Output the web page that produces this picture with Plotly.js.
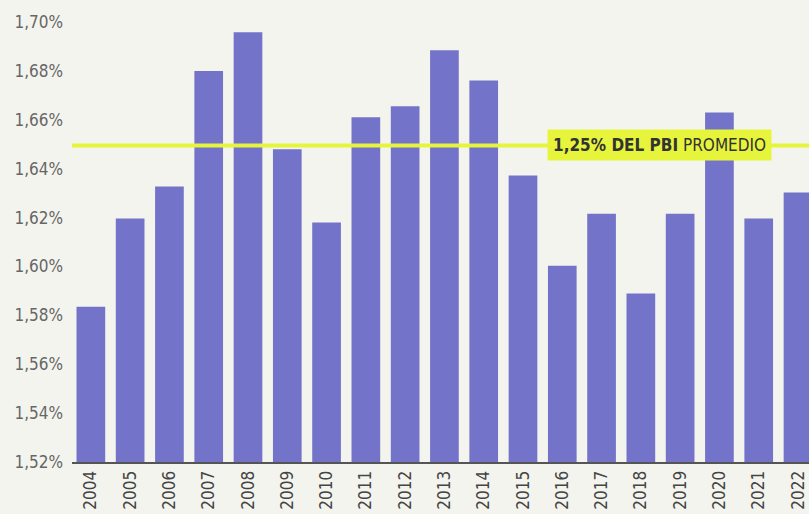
<!DOCTYPE html>
<html>
<head>
<meta charset="utf-8">
<script src="https://cdn.plot.ly/plotly-3.0.1.min.js"></script>
<style>html,body{margin:0;padding:0;background:#f4f4ee;}#chart{width:809px;height:514px;}</style>
</head>
<body>
<div id="chart"></div>
<script>
const years = ["2004","2005","2006","2007","2008","2009","2010","2011","2012","2013","2014","2015","2016","2017","2018","2019","2020","2021","2022"];
const values = [1.5835,1.6196,1.6327,1.6800,1.6958,1.6479,1.6180,1.6610,1.6655,1.6884,1.6761,1.6372,1.6003,1.6216,1.5889,1.6216,1.6630,1.6196,1.6302];
const averageLine = 1.6495;
const averageLabel = "<b>1,25% DEL PBI</b> PROMEDIO";
const yTicks = [1.52,1.54,1.56,1.58,1.60,1.62,1.64,1.66,1.68,1.70];
const yTickLabels = ["1,52%","1,54%","1,56%","1,58%","1,60%","1,62%","1,64%","1,66%","1,68%","1,70%"];

const FONT = "'DejaVu Sans Condensed', 'Liberation Sans Narrow', sans-serif";

const data = [{
  type: "bar",
  x: years,
  y: values,
  marker: {color: "#7373c9"},
  hoverinfo: "skip"
}];

const layout = {
  width: 809, height: 514,
  margin: {l: 72, r: 0, t: 22, b: 52},
  paper_bgcolor: "#f4f4ee",
  plot_bgcolor: "#f4f4ee",
  bargap: 0.27,
  showlegend: false,
  font: {family: FONT, color: "#555"},
  xaxis: {
    type: "category",
    range: [-0.48, 18.28],
    tickangle: -90,
    tickfont: {size: 17, color: "#444", family: FONT},
    showline: true, linecolor: "#555", linewidth: 2,
    ticks: "", showgrid: false, zeroline: false,
    fixedrange: true
  },
  yaxis: {
    range: [1.52, 1.70],
    tickmode: "array",
    tickvals: yTicks,
    ticktext: yTickLabels,
    tickfont: {size: 17, color: "#666", family: FONT},
    showgrid: false, zeroline: false, showline: false,
    ticks: "", ticklabelstandoff: 8
  },
  shapes: [{
    type: "line", xref: "paper", yref: "y",
    x0: 0, x1: 1, y0: averageLine, y1: averageLine,
    line: {color: "#e6f53c", width: 4},
    layer: "above"
  }],
  annotations: [{
    xref: "paper", yref: "y",
    x: (659 - 72) / 737, y: averageLine,
    text: averageLabel,
    showarrow: false,
    bgcolor: "#e6f53c",
    font: {size: 17, color: "#333", family: FONT},
    borderpad: 5,
    xanchor: "center", yanchor: "middle"
  }]
};

Plotly.newPlot("chart", data, layout, {displayModeBar: false, staticPlot: true});
</script>
</body>
</html>
